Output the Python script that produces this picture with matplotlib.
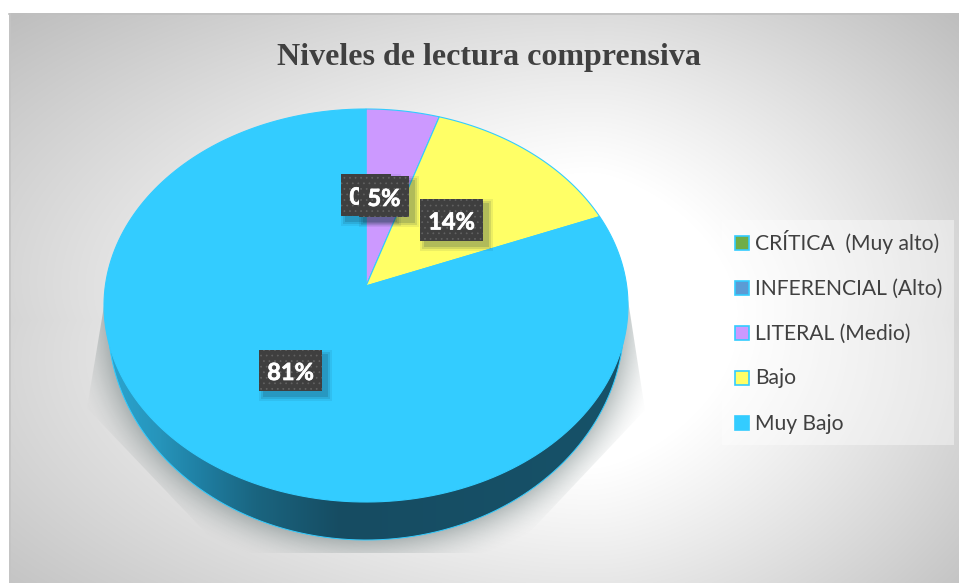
import numpy as np
import matplotlib
matplotlib.use('Agg')
import matplotlib.pyplot as plt
import matplotlib.patheffects as pe
from matplotlib.patches import Polygon, Rectangle

title = 'Niveles de lectura comprensiva'
categories = ['CRÍTICA  (Muy alto)', 'INFERENCIAL (Alto)', 'LITERAL (Medio)', 'Bajo', 'Muy Bajo']
values = [0, 0, 5, 14, 81]
slice_colors = ['#70AD47', '#5B9BD5', '#CC99FF', '#FFFF66', '#33CCFF']
edge_color = '#33CCFF'

W, H = 959, 583
# pie geometry, pixels
cx, cy, a, b = 366, 305.5, 262, 196.5
apex_y = 286
# outer edge of the wall
a2, b2, cy2 = 258, 218, 322


def rim_point(frac):
    # ray from the (off-centre) apex, tilted pie so the apex sits above the ellipse centre
    th = 2 * np.pi * frac
    dx, dy = a * np.sin(th), -b * np.cos(th)
    y0 = apex_y - cy
    A = (dx / a) ** 2 + (dy / b) ** 2
    B = 2 * dy * y0 / b ** 2
    C = (y0 / b) ** 2 - 1
    s = (-B + np.sqrt(B ** 2 - 4 * A * C)) / (2 * A)
    return cx + s * dx, apex_y + s * dy


def box_label(ax, x0, y0, x1, y1, txt, z):
    # soft shadow
    for grow, alpha in zip([5, 3, 1], [0.08, 0.12, 0.16]):
        ax.add_patch(Rectangle((x0 + 5 - grow, y0 + 5 - grow), x1 - x0 + 2 * grow, y1 - y0 + 2 * grow,
                               fc='#103040', ec='none', alpha=alpha, zorder=z))
    ax.add_patch(Rectangle((x0, y0), x1 - x0, y1 - y0, fc='#3F3F3F', ec='#626262', lw=0,
                           hatch='...', zorder=z + 0.1))
    ax.text((x0 + x1) / 2, (y0 + y1) / 2 + 2, txt, color='white', fontsize=17, fontweight='bold',
            family='Lato', ha='center', va='center', zorder=z + 0.2,
            path_effects=[pe.withStroke(linewidth=0.5, foreground='white')])


plt.rcParams['hatch.linewidth'] = 0.5
fig = plt.figure(figsize=(W / 100, H / 100), dpi=100)
ax = fig.add_axes([0, 0, 1, 1])
ax.set_xlim(0, W)
ax.set_ylim(H, 0)
ax.axis('off')

# chart area background, white in the middle and grey to the corners
yy, xx = np.mgrid[0:H, 0:W]
u = np.where(xx < 590, (590 - xx) / 580, (xx - 590) / 369)
v = np.abs(yy - 320) / 290
down = 1.3 * (46 * u ** 1.3 + 38 * v ** 1.5 - 22 * u * v) - 18
bg = np.clip(255 - down, 190, 255)
bg_rgb = np.dstack([bg, bg, bg]).astype(np.uint8)
ax.imshow(bg_rgb, extent=(0, W, H, 0), zorder=0, aspect='auto', interpolation='bilinear')
ax.add_patch(Rectangle((0, 0), W, 13, fc='white', ec='none', zorder=0.1))
ax.add_patch(Rectangle((0, 0), 9, H, fc='white', ec='none', zorder=0.1))
ax.plot([9, W], [14, 14], color='#BFBFBF', lw=1.2, zorder=0.2)
ax.plot([9.5, 9.5], [14, H], color='#C4C4C4', lw=1.2, zorder=0.2)

# soft shadow under the pie, cut off by a trapezoid
r = np.sqrt(((xx - cx) / a2) ** 2 + ((yy - cy2) / b2) ** 2)
dist = (r - 1) * b2
shade = np.clip(1 - dist / 36, 0, 1) ** 1.8
rgba = np.zeros((H, W, 4))
rgba[..., :3] = np.array([0.28, 0.36, 0.36])
rgba[..., 3] = shade * 0.36
im = ax.imshow(rgba, extent=(0, W, H, 0), zorder=1, aspect='auto')
im.set_clip_path(Polygon([(105, 300), (87, 408), (225, 553), (510, 553), (645, 410), (628, 300)],
                         closed=True, transform=ax.transData))

# pie wall, light at the left and dark from the front onwards
wall_x = [105, 160, 200, 255, 340, 628]
wall_r = [0x2B, 0x26, 0x1F, 0x1A, 0x16, 0x17]
wall_g = [0xA6, 0x94, 0x7F, 0x65, 0x4C, 0x52]
wall_b = [0xD2, 0xBA, 0xA3, 0x80, 0x62, 0x69]
px = np.arange(W)
grad = np.dstack([np.interp(px, wall_x, ch) for ch in (wall_r, wall_g, wall_b)])[0:1] / 255
wall_img = ax.imshow(grad, extent=(0, W, H, 0), zorder=2, aspect='auto')
th = np.linspace(0, np.pi, 200)
wall_pts = np.column_stack([cx + a2 * np.cos(th), cy2 + b2 * np.sin(th)])
wall_img.set_clip_path(Polygon(wall_pts, closed=True, transform=ax.transData))
ax.plot(wall_pts[:, 0], wall_pts[:, 1], color=edge_color, lw=0.7, zorder=2.1)

# top face, one polygon per non-empty slice
total = sum(values)
start = 0.0
for val, col in zip(values, slice_colors):
    if val == 0:
        continue
    fr = np.linspace(start, start + val / total, 200)
    pts = np.array([rim_point(f) for f in fr])
    pts = np.vstack([[cx, apex_y], pts])
    ax.add_patch(Polygon(pts, closed=True, fc=col, ec=edge_color, lw=0.8, zorder=3))
    start += val / total

# data labels
box_label(ax, 341, 174, 391, 216, f'{values[0]}%', 4)
box_label(ax, 359, 176, 409, 217, f'{values[2]}%', 5)
box_label(ax, 420, 199, 483, 241, f'{values[3]}%', 6)
box_label(ax, 259, 350, 322, 391, f'{values[4]}%', 7)

ax.text(489, 57.5, title, family='Liberation Serif', fontweight='bold', fontsize=23,
        color='#404040', ha='center', va='center', zorder=8)

# legend
ax.add_patch(Rectangle((722, 220), 232, 225, fc='white', ec='none', alpha=0.4, zorder=8))
for i, (name, col) in enumerate(zip(categories, slice_colors)):
    row_y = 243 + 45 * i
    ax.add_patch(Rectangle((735, row_y - 7), 14, 14, fc=col, ec=edge_color, lw=1.2, zorder=9))
    ax.text(755, row_y + 6.5, name, family='Lato', fontsize=15.2, color='#404040',
            ha='left', va='baseline', zorder=9)

fig.savefig('out.png', dpi=100)
